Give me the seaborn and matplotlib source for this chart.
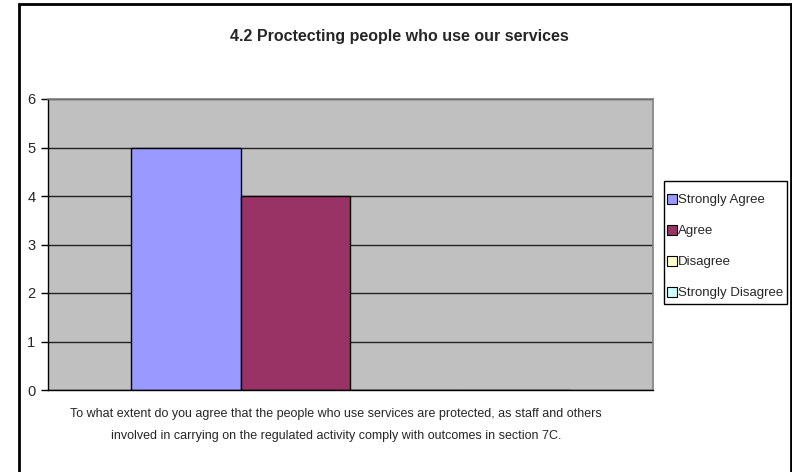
import matplotlib
matplotlib.use("Agg")
import matplotlib.pyplot as plt
from matplotlib.patches import Rectangle
from matplotlib.lines import Line2D
import seaborn as sns
import pandas as pd

# Survey responses for question 4.2
question = ["4.2"]
responses = ["Strongly Agree", "Agree", "Disagree", "Strongly Disagree"]
counts = [5, 4, 0, 0]
colours = ["#9999FF", "#993366", "#FFFFCC", "#CCFFFF"]
y_ticks = [0, 1, 2, 3, 4, 5, 6]

title = "4.2 Proctecting people who use our services"
x_label = ("To what extent do you agree that the people who use services are protected, as staff and others\n"
           "involved in carrying on the regulated activity comply with outcomes in section 7C.")

sns.set_theme(style="white")
plt.rcParams["font.family"] = ["Liberation Sans Narrow", "Liberation Sans", "DejaVu Sans"]

df = pd.DataFrame({"question": question * len(responses),
                   "response": responses,
                   "count": counts})

W, H = 792, 472
fig = plt.figure(figsize=(W / 100, H / 100), dpi=100)
ax = fig.add_axes([48 / W, 1 - 390 / H, (653 - 48) / W, (390 - 99) / H])

sns.barplot(data=df, x="question", y="count", hue="response",
            hue_order=responses, palette=colours, width=0.727,
            edgecolor="black", linewidth=1.0, saturation=1, ax=ax, legend=False)

ax.set_facecolor("#C0C0C0")
ax.set_xlim(-0.5, 0.5)
ax.set_ylim(0, 6)
ax.set_yticks(y_ticks)
ax.set_yticklabels([str(t) for t in y_ticks], fontsize=10.5)
ax.set_xticks([])
ax.set_xlabel("")
ax.set_ylabel("")
ax.yaxis.grid(True, color="#222222", linewidth=1.0)
ax.set_axisbelow(True)
ax.tick_params(axis="y", left=True, length=5, width=1, color="black", pad=4)
for side in ["top", "right"]:
    ax.spines[side].set_color("#808080")
    ax.spines[side].set_linewidth(1.2)
ax.spines["left"].set_color("black")
ax.spines["bottom"].set_color("black")
ax.spines["left"].set_linewidth(1.0)
ax.spines["bottom"].set_linewidth(1.0)

# Outer chart frame
fig.patches.append(Rectangle((18.5 / W, -0.02), (790.5 - 18.5) / W, 1 - 4 / H + 0.02,
                             transform=fig.transFigure, fill=False,
                             edgecolor="black", linewidth=2, zorder=10))

fig.text(399 / W, 1 - 36 / H, title, ha="center", va="center",
         fontsize=11.5, fontweight="bold")
fig.text(336 / W, 1 - 425 / H, x_label, ha="center", va="center",
         fontsize=9, linespacing=2.2)

# Legend box with its entries placed inside
fig.patches.append(Rectangle((664 / W, 1 - 304 / H), (787 - 664) / W, (304 - 181) / H,
                             transform=fig.transFigure, facecolor="white",
                             edgecolor="black", linewidth=1.0, zorder=3))
handles = [Line2D([0], [0], marker="s", linestyle="none", markersize=6.5,
                  markerfacecolor=c, markeredgecolor="black", markeredgewidth=0.8)
           for c in colours]
leg = fig.legend(handles, responses, loc="upper left",
                 bbox_to_anchor=(667 / W, 1 - 194 / H), frameon=False,
                 fontsize=9.5, handletextpad=0.1, handlelength=0.75,
                 borderpad=0, labelspacing=1.42, borderaxespad=0,
                 handleheight=0.7)
leg.set_zorder(4)

fig.savefig("out.png", dpi=100)
